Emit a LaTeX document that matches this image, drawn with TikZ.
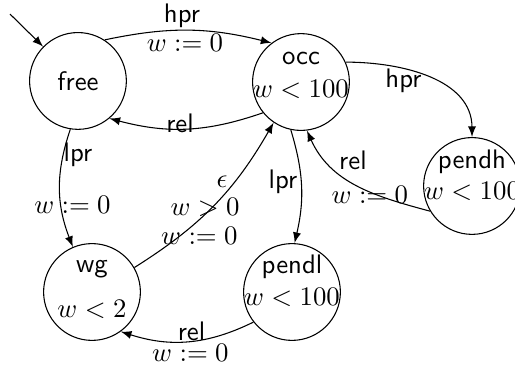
\documentclass[tikz,border=0pt]{standalone}
\usetikzlibrary{arrows}

\tikzset{
  loc/.style={circle, draw, minimum size=1.27cm, inner sep=0pt, font=\sffamily},
  locname/.style={anchor=base, inner sep=0pt, font=\sffamily},
  locinv/.style={anchor=base, inner sep=0pt},
  act/.style={inner sep=0pt, font=\sffamily},
  upd/.style={inner sep=0pt},
  trans/.style={->, >=latex},
}

\begin{document}
\begin{tikzpicture}
        \useasboundingbox (0,0) rectangle (6.757,4.841);

        % locations
        \node[loc] (free) at (1.023,3.779) {free};
        \node[loc] (occ) at (3.949,3.765) {};
        \node[loc] (pendh) at (6.193,2.401) {};
        \node[loc] (pendl) at (3.831,1.010) {};
        \node[loc] (wg) at (1.207,1.010) {};

        \node[locname] (occ-n) at ([yshift=0.236cm]occ.center) {occ};
        \node[locinv] (occ-i) at ([yshift=-0.197cm]occ.center) {$w<100$};
        \node[locname] (pendh-n) at ([yshift=0.223cm]pendh.center) {pendh};
        \node[locinv] (pendh-i) at ([yshift=-0.171cm]pendh.center) {$w<100$};
        \node[locname] (pendl-n) at ([yshift=0.249cm]pendl.center) {pendl};
        \node[locinv] (pendl-i) at ([yshift=-0.171cm]pendl.center) {$w<100$};
        \node[locname] (wg-n) at ([yshift=0.262cm]wg.center) {wg};
        \node[locinv] (wg-i) at ([yshift=-0.341cm]wg.center) {$w<2$};

        % initial
        \coordinate (init) at (0.131,4.657);
        \draw[trans] (init) -- (free);

        % transitions
        \draw[trans] (free.57) to[bend left=13] (occ.127);
        \draw[trans] (occ.219) to[bend left=17] (free.-50);
        \draw[trans] (occ.24) to[out=0,in=90] (pendh.north);
        \draw[trans] (pendh.211) to[out=165,in=-66] (occ.-83);
        \draw[trans] (occ.-102) to[bend left=15] (pendl.87);
        \draw[trans] (free.-99) to[bend right=20] (wg.113);
        \draw[trans] (wg.30) to[bend right=14] (occ.-124);
        \draw[trans] (pendl.218) to[bend left=22] (wg.-54);

        % labels
        \node[act] (hpr-a) at (2.388,4.631) {hpr};
        \node[upd] (hpr-u) at (2.427,4.280) {$w:=0$};
        \node[act] (rel-a) at (2.362,3.228) {rel};
        \node[act] (hpr-b) at (5.294,3.778) {hpr};
        \node[act] (rel-b) at (4.631,2.742) {rel};
        \node[upd] (rel-bu) at (4.854,2.283) {$w:=0$};
        \node[act] (lpr-a) at (3.713,2.454) {lpr};
        \node[act] (lpr-b) at (1.023,2.808) {lpr};
        \node[upd] (lpr-bu) at (0.951,2.152) {$w:=0$};
        \node[upd] (eps-a) at (2.913,2.453) {$\epsilon$};
        \node[upd] (eps-g) at (2.690,2.125) {$w>0$};
        \node[upd] (eps-u) at (2.617,1.745) {$w:=0$};
        \node[act] (rel-c) at (2.513,0.499) {rel};
        \node[upd] (rel-cu) at (2.499,0.210) {$w:=0$};

\end{tikzpicture}
\end{document}
